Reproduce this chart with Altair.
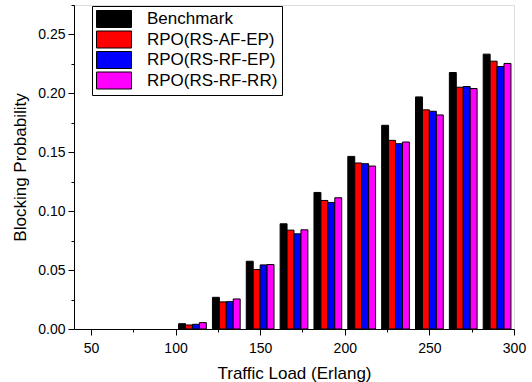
import altair as alt
import pandas as pd

# ---- data ----
loads = [110, 130, 150, 170, 190, 210, 230, 250, 270, 290]
series_names = ["Benchmark", "RPO(RS-AF-EP)", "RPO(RS-RF-EP)", "RPO(RS-RF-RR)"]
series_colors = ["#000000", "#ff0000", "#0000ff", "#ff00ff"]
benchmark = [0.0045, 0.0269, 0.0575, 0.0893, 0.1159, 0.1465, 0.1729, 0.1970, 0.2177, 0.2333]
rpo_af_ep = [0.0034, 0.0230, 0.0505, 0.0839, 0.1091, 0.1409, 0.1601, 0.1860, 0.2052, 0.2273]
rpo_rf_ep = [0.0040, 0.0232, 0.0544, 0.0808, 0.1074, 0.1403, 0.1573, 0.1848, 0.2058, 0.2228]
rpo_rf_rr = [0.0054, 0.0255, 0.0547, 0.0842, 0.1114, 0.1383, 0.1587, 0.1817, 0.2041, 0.2254]
x_ticks = [50, 75, 100, 125, 150, 175, 200, 225, 250, 275, 300]
y_ticks = [0, 0.025, 0.05, 0.075, 0.1, 0.125, 0.15, 0.175, 0.2, 0.225, 0.25, 0.275]

rows = []
for i, (name, vals) in enumerate(zip(series_names, [benchmark, rpo_af_ep, rpo_rf_ep, rpo_rf_rr])):
    for load, v in zip(loads, vals):
        rows.append({"load": load, "series": name, "idx": i, "value": v})
df = pd.DataFrame(rows)

FONT = "Liberation Sans"
BAR_W = 4.1

x_axis = alt.Axis(
    values=x_ticks,
    labelExpr="datum.value % 50 == 0 ? datum.label : ''",
    tickSize={"condition": {"test": "datum.value % 50 == 0", "value": 6}, "value": 3},
    labelOverlap=False, labelFlush=False, grid=False,
    labelFont=FONT, labelFontSize=14, labelColor="black", labelPadding=6,
    titleFont=FONT, titleFontSize=17, titleFontWeight="normal", titleColor="black", titlePadding=10,
    domainColor="black", tickColor="black", orient="bottom",
)
y_axis = alt.Axis(
    values=y_ticks,
    labelExpr="abs(datum.value*20 - round(datum.value*20)) < 0.001 ? format(datum.value, '.2f') : ''",
    tickSize={"condition": {"test": "abs(datum.value*20 - round(datum.value*20)) < 0.001", "value": 6}, "value": 3},
    labelOverlap=False, labelFlush=False, grid=False,
    labelFont=FONT, labelFontSize=14, labelColor="black", labelPadding=3,
    titleFont=FONT, titleFontSize=17, titleFontWeight="normal", titleColor="black", titlePadding=8,
    domainColor="black", tickColor="black", orient="left",
)

chart = alt.Chart(df).transform_calculate(
    x0=f"datum.load + (datum.idx - 2) * {BAR_W}",
    x1=f"datum.load + (datum.idx - 1) * {BAR_W}",
).mark_bar(stroke="black", strokeWidth=1, opacity=1).encode(
    x=alt.X("x0:Q", scale=alt.Scale(domain=[40, 300], nice=False, zero=False),
            axis=x_axis, title="Traffic Load (Erlang)"),
    x2="x1:Q",
    y=alt.Y("value:Q", scale=alt.Scale(domain=[0, 0.275], nice=False),
            axis=y_axis, title="Blocking Probability"),
    y2=alt.datum(0),
    fill=alt.Fill("series:N", scale=alt.Scale(domain=series_names, range=series_colors),
                  legend=alt.Legend(
                      title=None, orient="none", legendX=18, legendY=1,
                      symbolType="M-2.36,0M-2.06,-1H2.06V1H-2.06Z", symbolSize=289,
                      symbolStrokeColor="black", symbolStrokeWidth=1, symbolOpacity=1,
                      symbolOffset=9, labelOffset=24, rowPadding=-1.5,
                      labelFont=FONT, labelFontSize=17, labelColor="black", labelLimit=300,
                      strokeColor="black", fillColor="white", padding=4, cornerRadius=0,
                  )),
).properties(
    width=440, height=324,
    padding={"left": 74, "top": 5, "right": 18, "bottom": 53},
    autosize=alt.AutoSizeParams(type="none"),
).configure_view(stroke=None).configure(background="white")

chart.save("out.html", embed_options={"renderer": "svg", "actions": False})
